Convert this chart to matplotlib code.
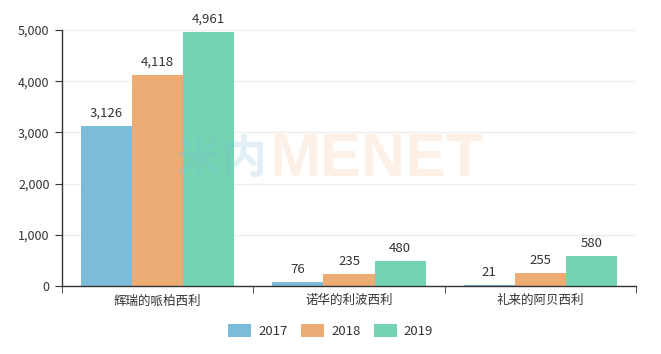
import numpy as np
import matplotlib
matplotlib.use('Agg')
import matplotlib.pyplot as plt
from matplotlib.patches import Patch

plt.rcParams['font.family'] = ['Noto Sans CJK SC', 'DejaVu Sans']

categories = ['辉瑞的哌柏西利', '诺华的利波西利', '礼来的阿贝西利']
years = ['2017', '2018', '2019']
v2017 = [3126, 76, 21]
v2018 = [4118, 235, 255]
v2019 = [4961, 480, 580]
colors = ['#7dbcd9', '#edac74', '#74d4b2']

fig = plt.figure(figsize=(6.61, 3.54), dpi=100)
ax = fig.add_axes([62 / 661, 1 - 286 / 354, 574 / 661, 256 / 354])

x = np.arange(len(categories))
w = 0.8 / 3
for i, (vals, c) in enumerate(zip([v2017, v2018, v2019], colors)):
    pos = x + (i - 1) * w
    ax.bar(pos, vals, width=w, color=c, zorder=2)
    for p, v in zip(pos, vals):
        ax.text(p, v + 120, f'{v:,}', ha='center', va='bottom', fontsize=9.5, color='#333333')

ax.set_xlim(-0.5, 2.5)
ax.set_ylim(0, 5000)
ax.set_yticks(range(0, 5001, 1000))
ax.set_yticklabels([f'{t:,}' for t in range(0, 5001, 1000)])
ax.set_xticks(x)
ax.set_xticklabels(categories)
ax.set_xticks([-0.5, 0.5, 1.5, 2.5], minor=True)
ax.tick_params(axis='x', which='major', length=0, pad=6, labelsize=9, labelcolor='#333333')
ax.tick_params(axis='x', which='minor', length=5, color='#333333', direction='out')
ax.tick_params(axis='y', length=5, color='#333333', labelsize=9, labelcolor='#333333', pad=4)
ax.grid(axis='y', color='#eeeeee', linewidth=1, zorder=0)
for s in ['top', 'right']:
    ax.spines[s].set_visible(False)
for s in ['left', 'bottom']:
    ax.spines[s].set_color('#333333')
    ax.spines[s].set_linewidth(1)

# watermark
fig.text(268 / 661, 1 - 160 / 354, '米内', fontsize=33, fontweight='bold', color='#7dbcd9',
         alpha=0.22, ha='right', va='center')
fig.text(270 / 661, 1 - 160 / 354, 'MENET', fontsize=44, fontweight='bold', color='#f5a05a',
         alpha=0.14, ha='left', va='center', family='Liberation Sans')

handles = [Patch(facecolor=c, edgecolor='none', label=y) for c, y in zip(colors, years)]
fig.legend(handles=handles, loc='center', bbox_to_anchor=(0.5, 1 - 331 / 354), ncol=3,
           frameon=False, fontsize=9.5, handlelength=1.8, handleheight=1.1, columnspacing=1.0,
           handletextpad=0.5, labelcolor='#333333')

plt.savefig('out.png', dpi=100)
